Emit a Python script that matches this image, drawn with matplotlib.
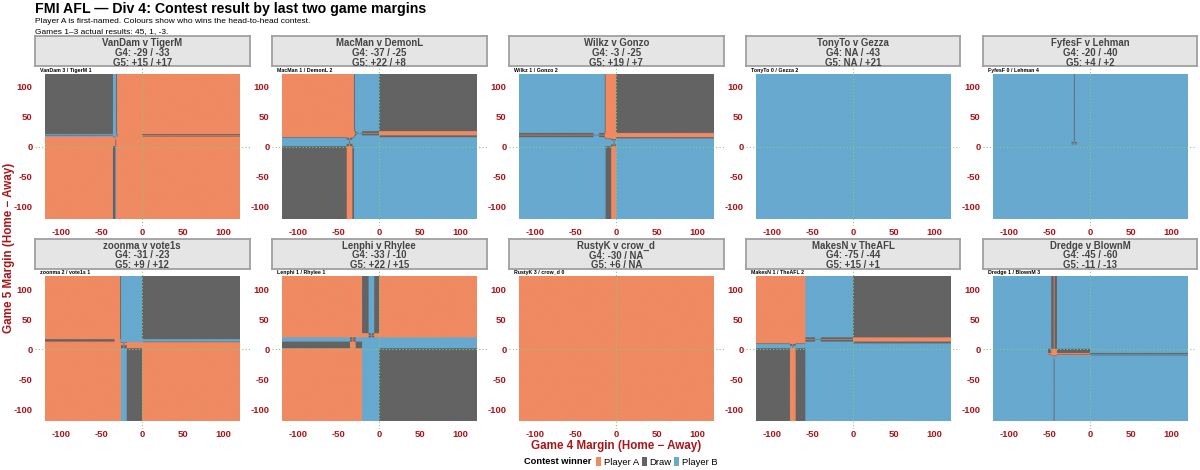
import numpy as np
import matplotlib.pyplot as plt
from matplotlib.colors import to_rgb
from matplotlib.patches import Patch

plt.rcParams['font.family'] = ['Liberation Sans', 'DejaVu Sans']
plt.rcParams['axes.unicode_minus'] = False

# head-to-head pairs (player A first-named)
player_a = ["VanDam", "MacMan", "Wilkz", "TonyTo", "FyfesF",
            "zoonma", "Lenphi", "RustyK", "MakesN", "Dredge"]
player_b = ["TigerM", "DemonL", "Gonzo", "Gezza", "Lehman",
            "vote1s", "Rhylee", "crow_d", "TheAFL", "BlownM"]

# margin tips for games 4 and 5 (nan = no tip)
g4_tip_a = [-29, -37, -3, np.nan, -20, -31, -33, -30, -75, -45]
g4_tip_b = [-33, -25, -25, -43, -40, -23, -10, np.nan, -44, -60]
g5_tip_a = [15, 22, 19, np.nan, 4, 9, 22, 6, 15, -11]
g5_tip_b = [17, 8, 7, 21, 2, 12, 15, np.nan, 1, -13]

# contest scores after games 1-3
score_a = [3, 1, 1, 0, 0, 2, 1, 3, 1, 1]
score_b = [1, 2, 2, 2, 4, 1, 1, 0, 2, 3]

margins = np.arange(-120, 121)
outcome_labels = ["Player A", "Draw", "Player B"]
outcome_colours = ["#ef8a62", "#636363", "#67a9cf"]
axis_red = "#a8161b"


def game_points(tip_a, tip_b, actual):
    right, err = [], []
    for tip in (tip_a, tip_b):
        if np.isnan(tip):
            right.append(np.zeros(actual.shape, bool))
            err.append(np.full(actual.shape, np.inf))
        else:
            r = np.sign(actual) == np.sign(tip)
            right.append(r)
            err.append(np.where(r, np.abs(actual - tip), np.inf))
    pa = (right[0] & (err[0] <= err[1])).astype(int)
    pb = (right[1] & (err[1] <= err[0])).astype(int)
    # a missing tip hands the game to the opponent
    if np.isnan(tip_a):
        pb = np.ones_like(pb)
    if np.isnan(tip_b):
        pa = np.ones_like(pa)
    # bonus for getting within 3, and again for the exact margin
    pa += (err[0] <= 3).astype(int) + (err[0] == 0).astype(int)
    pb += (err[1] <= 3).astype(int) + (err[1] == 0).astype(int)
    return pa, pb


def contest_grid(i):
    g4, g5 = np.meshgrid(margins, margins)
    a4, b4 = game_points(g4_tip_a[i], g4_tip_b[i], g4)
    a5, b5 = game_points(g5_tip_a[i], g5_tip_b[i], g5)
    diff = (score_a[i] + a4 + a5) - (score_b[i] + b4 + b5)
    return np.where(diff > 0, 0, np.where(diff == 0, 1, 2))


def fmt(v):
    return "NA" if np.isnan(v) else f"{int(v):+d}"


W, H = 1200, 470
fig = plt.figure(figsize=(W / 100, H / 100), dpi=100)

col_centre = 142.3 + 237 * np.arange(5)
panel_w = 214.4
panel_top = [67.4, 270.0]
panel_h = 158.6
strip_h = 30.0
rgb = np.array([to_rgb(c) for c in outcome_colours])
lim = 120.5 + 0.05 * 241

for i in range(len(player_a)):
    row, col = divmod(i, 5)
    left = (col_centre[col] - panel_w / 2) / W
    ax = fig.add_axes([left, 1 - (panel_top[row] + panel_h) / H, panel_w / W, panel_h / H])
    code = contest_grid(i)
    ax.imshow(rgb[code], origin='lower', extent=(-120.5, 120.5, -120.5, 120.5),
              aspect='auto', interpolation='antialiased')
    ax.axvline(0, color='#7fcf7f', ls=(0, (1, 2)), lw=0.8)
    ax.axhline(0, color='#7fcf7f', ls=(0, (1, 2)), lw=0.8)
    ax.set_xlim(-lim, lim)
    ax.set_ylim(-lim, lim)
    ticks = [-100, -50, 0, 50, 100]
    ax.set_xticks(ticks)
    ax.set_yticks(ticks)
    ax.tick_params(axis='y', length=0, pad=1.8, labelsize=6.8, labelcolor=axis_red)
    ax.tick_params(axis='x', length=0, pad=1.2, labelsize=6.8, labelcolor=axis_red)
    for lab in ax.get_xticklabels() + ax.get_yticklabels():
        lab.set_fontweight('bold')
    for s in ax.spines.values():
        s.set_visible(False)
    ax.text(0.023, 0.982, f"{player_a[i]} {score_a[i]} / {player_b[i]} {score_b[i]}",
            transform=ax.transAxes, ha='left', va='center', fontsize=3.8,
            fontweight='bold', color='black')

    sax = fig.add_axes([left, 1 - (panel_top[row] - 1) / H, panel_w / W, strip_h / H])
    sax.set_facecolor('#e5e5e5')
    sax.set_xticks([])
    sax.set_yticks([])
    for s in sax.spines.values():
        s.set_color('#a0a0a0')
        s.set_linewidth(1.3)
    strip_txt = (f"{player_a[i]} v {player_b[i]}\n"
                 f"G4: {fmt(g4_tip_a[i])} / {fmt(g4_tip_b[i])}\n"
                 f"G5: {fmt(g5_tip_a[i])} / {fmt(g5_tip_b[i])}")
    sax.text(0.5, 0.45, strip_txt, ha='center', va='center', fontsize=6.9,
             fontweight='bold', color='#444444', linespacing=0.98)

fig.text(35 / W, 1 - 12.7 / H, "FMI AFL \u2014 Div 4: Contest result by last two game margins",
         ha='left', va='baseline', fontsize=10.2, fontweight='bold')
fig.text(35 / W, 1 - 23.3 / H,
         "Player A is first-named. Colours show who wins the head-to-head contest.",
         ha='left', va='baseline', fontsize=6.0)
fig.text(35 / W, 1 - 33.5 / H, "Games 1\u20133 actual results: 45, 1, -3.",
         ha='left', va='baseline', fontsize=6.0)

fig.text(616 / W, 1 - 446 / H, "Game 4 Margin (Home \u2212 Away)", ha='center', va='center',
         fontsize=8.4, fontweight='bold', color=axis_red)
fig.text(9 / W, 1 - 248 / H, "Game 5 Margin (Home \u2212 Away)", ha='center', va='center',
         rotation=90, fontsize=8.4, fontweight='bold', color=axis_red)

fig.text(524 / W, 1 - 462 / H, "Contest winner", ha='left', va='center',
         fontsize=6.7, fontweight='bold')
handles = [Patch(facecolor=c, edgecolor='none') for c in outcome_colours]
fig.legend(handles, outcome_labels, loc='center left', bbox_to_anchor=(596 / W, 1 - 462 / H),
           ncol=3, frameon=False, fontsize=6.8, handlelength=0.55, handleheight=1.0,
           handletextpad=0.25, columnspacing=0.3, borderpad=0, borderaxespad=0)

fig.savefig("out.png", dpi=100)
